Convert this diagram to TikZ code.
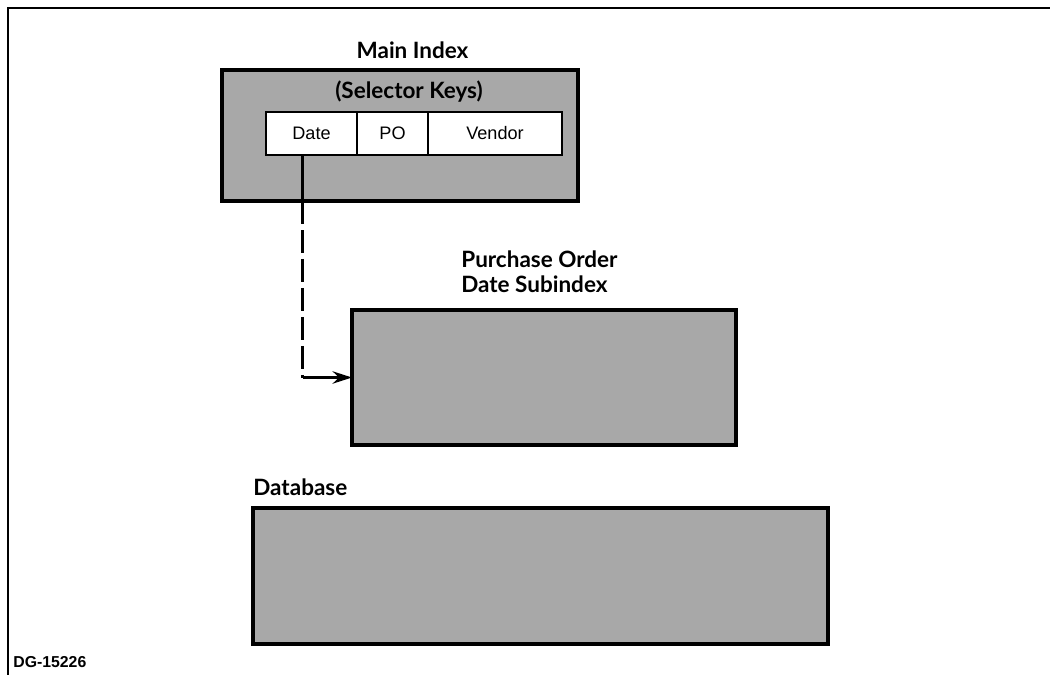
\documentclass[tikz,border=0pt]{standalone}
\usepackage{fontspec}
\setmainfont{Liberation Sans}
\newfontfamily\labelfont{Lato}
\usetikzlibrary{positioning, arrows.meta}
\definecolor{dgshade}{HTML}{A8A8A8}

\begin{document}
\begin{tikzpicture}[
      every node/.style={font=\small},
      shadebox/.style={draw, line width=2.2pt, fill=dgshade, inner sep=0pt, outer sep=0pt},
      keycell/.style={draw, line width=1.4pt, fill=white, minimum height=0.86cm, inner sep=0pt, outer sep=0pt, font=\fontsize{10.3}{12}\selectfont},
      boxlabel/.style={inner sep=0pt, font=\labelfont\bfseries\fontsize{12.8}{14.2}\selectfont, align=left},
      >=Stealth,
    ]
    \useasboundingbox (0,0) rectangle (21,-13.5);
    % frame
    \draw[line width=1pt] (0.16,-13.5) |- (21,-0.16);

    % main index with its selector keys
    \node[shadebox, minimum width=7.12cm, minimum height=2.62cm] (main) at (8.0,-2.71) {};
    \node[boxlabel, anchor=base] (mainlbl) at (8.25,-1.16) {Main Index};
    \node[boxlabel] (keyslbl) at (8.18,-1.84) {(Selector Keys)};
    \node[keycell, anchor=west, minimum width=1.82cm] (date) at (5.32,-2.67) {Date};
    \node[keycell, right=0pt of date, minimum width=1.42cm] (po) {PO};
    \node[keycell, right=0pt of po, minimum width=2.68cm] (vendor) {Vendor};

    % subindex and database
    \node[shadebox, minimum width=7.68cm, minimum height=2.7cm] (sub) at (10.88,-7.55) {};
    \node[boxlabel, anchor=north west] (sublbl) at (9.22,-5.0) {Purchase Order\\Date Subindex};
    \node[shadebox, minimum width=11.5cm, minimum height=2.72cm] (db) at (10.81,-11.52) {};
    \node[boxlabel, anchor=base west] (dblbl) at (5.06,-9.9) {Database};

    \node[inner sep=0pt, anchor=base west, font=\bfseries\fontsize{9}{10}\selectfont] (fig) at (0.26,-13.34) {DG-15226};

    % date key points into the subindex
    \coordinate (tap) at ([xshift=-0.18cm]date.south);
    \coordinate (turn) at (tap |- sub.west);
    \draw[line width=1.6pt] (tap) -- (tap |- main.south);
    \draw[line width=1.6pt, dash pattern=on 13pt off 3.5pt] (tap |- main.south) -- (turn);
    \draw[->, line width=1.6pt, arrows={-Stealth[length=11pt, width=7pt]}] (turn) -- (sub.west);
  \end{tikzpicture}
\end{document}
